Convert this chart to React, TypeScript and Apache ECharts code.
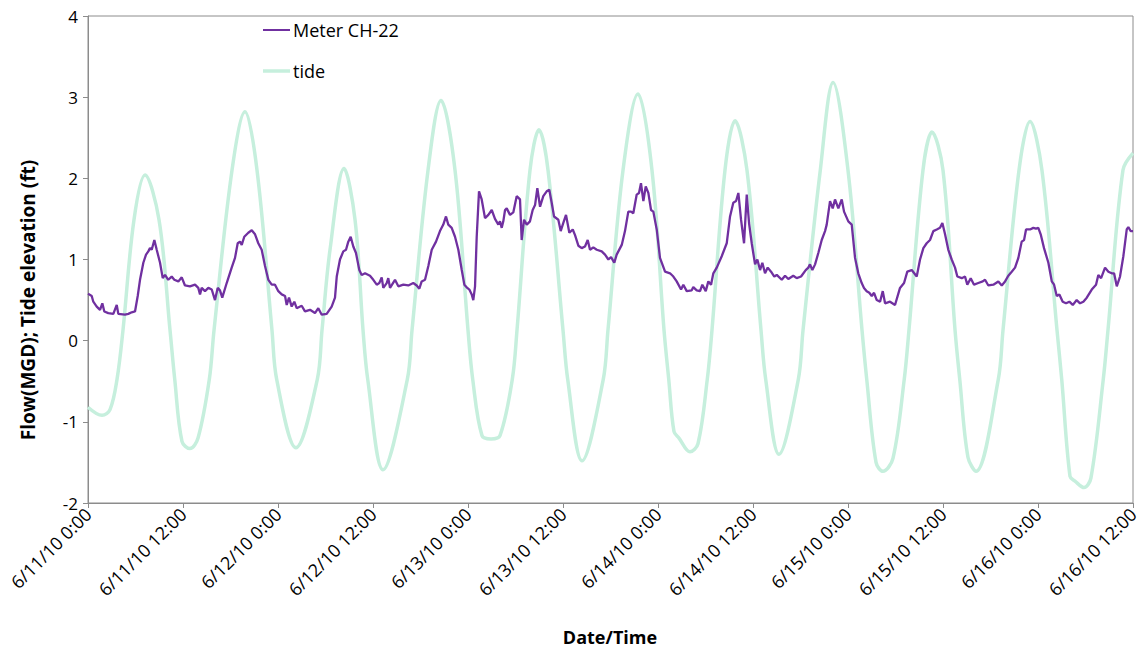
import React, { useEffect, useRef } from "react";
import * as echarts from "echarts";

// hours since 6/11/10 0:00
const tideHours = [0, 1.77, 2.78, 3.66, 4.42, 5.81, 7.2, 8.97, 10.36, 10.96, 11.87, 12.88, 13.9, 15.32, 15.92, 18.19, 19.83, 21.35, 23.24, 23.84, 26.27, 28.96, 29.56, 30.57, 32.34, 33.73, 34.74, 35.34, 37.26, 40.33, 40.93, 42.95, 44.59, 46.36, 48.0, 48.6, 49.77, 50.91, 52.04, 53.59, 54.19, 55.83, 56.97, 58.11, 60.0, 60.6, 62.4, 65.08, 65.68, 67.58, 69.47, 71.24, 72.76, 73.36, 74.02, 74.65, 76.04, 77.05, 78.22, 78.82, 80.46, 81.73, 83.24, 85.01, 85.61, 87.28, 89.72, 90.32, 92.5, 94.11, 96.0, 97.77, 98.37, 99.54, 100.42, 101.68, 103.1, 103.7, 105.47, 106.61, 108.0, 109.52, 110.12, 111.16, 112.17, 114.98, 115.58, 117.6, 118.99, 120.5, 122.4, 123.0, 124.04, 124.67, 125.81, 126.69, 128.24, 128.84, 130.73, 132];
const tideValues = [-0.82, -0.92, -0.85, -0.48, 0.13, 1.49, 2.04, 1.49, 0.13, -0.48, -1.24, -1.33, -1.2, -0.48, 0.13, 2.1, 2.82, 2.1, 0.13, -0.48, -1.32, -0.48, 0.13, 1.12, 2.12, 1.49, 0.13, -0.48, -1.59, -0.48, 0.13, 2.1, 2.96, 2.1, 0.13, -0.48, -1.17, -1.21, -1.17, -0.48, 0.13, 2.1, 2.6, 2.1, 0.13, -0.48, -1.48, -0.48, 0.13, 2.1, 3.04, 2.1, 0.13, -0.48, -1.12, -1.2, -1.37, -1.27, -0.48, 0.13, 2.1, 2.71, 2.1, 0.13, -0.48, -1.4, -0.48, 0.13, 2.1, 3.18, 2.1, 0.13, -0.48, -1.5, -1.61, -1.45, -0.48, 0.13, 2.1, 2.57, 2.1, 0.13, -0.48, -1.44, -1.61, -0.48, 0.13, 2.1, 2.7, 2.1, 0.13, -0.48, -1.67, -1.73, -1.81, -1.69, -0.48, 0.13, 2.1, 2.31];

const meterHours = [0, 0.47, 0.67, 1.1, 1.52, 1.81, 2.06, 2.56, 3.2, 3.63, 3.83, 4.67, 5.09, 5.52, 5.94, 6.28, 6.57, 6.99, 7.33, 7.62, 7.83, 8.05, 8.38, 8.68, 9.1, 9.44, 9.73, 10.14, 10.57, 10.9, 11.41, 11.84, 12.25, 12.88, 13.52, 13.93, 14.15, 14.36, 14.78, 15.2, 15.63, 16.04, 16.38, 16.67, 16.96, 17.52, 18.15, 18.57, 18.91, 19.2, 19.42, 19.74, 20.25, 20.68, 21.1, 21.51, 21.94, 22.36, 22.78, 23.21, 23.62, 24.04, 24.47, 24.89, 25.1, 25.39, 25.73, 26.06, 26.36, 26.99, 27.41, 28.04, 28.67, 29.09, 29.52, 30.15, 30.78, 31.2, 31.42, 31.83, 32.25, 32.59, 32.88, 33.18, 33.51, 33.85, 34.27, 34.57, 34.99, 35.62, 36.04, 36.47, 36.8, 37.1, 37.3, 37.73, 37.93, 38.15, 38.78, 39.2, 39.83, 40.46, 41.09, 41.52, 41.85, 42.15, 42.57, 42.99, 43.42, 43.96, 44.46, 44.88, 45.22, 45.51, 45.94, 46.36, 46.78, 47.21, 47.54, 47.91, 48.17, 48.47, 48.67, 48.89, 49.1, 49.39, 49.73, 50.15, 50.57, 51.0, 51.41, 51.83, 52.04, 52.26, 52.46, 52.68, 52.89, 53.31, 53.72, 54.15, 54.57, 54.78, 55.08, 55.42, 55.83, 56.17, 56.47, 56.76, 57.1, 57.51, 57.94, 58.27, 58.57, 58.87, 59.41, 59.71, 60.04, 60.38, 60.8, 61.23, 61.52, 61.94, 62.36, 62.78, 63.12, 63.41, 63.83, 64.26, 64.89, 65.31, 65.73, 66.07, 66.48, 66.78, 67.42, 67.83, 68.25, 68.59, 68.88, 69.31, 69.6, 69.85, 70.15, 70.45, 70.78, 71.12, 71.41, 71.84, 72.25, 72.89, 73.52, 73.94, 74.36, 74.91, 75.2, 75.63, 76.26, 76.46, 76.89, 77.31, 77.6, 78.03, 78.36, 78.7, 78.99, 79.42, 80.05, 80.68, 81.1, 81.51, 81.86, 82.15, 82.49, 82.87, 83.21, 83.5, 83.84, 84.26, 84.55, 84.89, 85.18, 85.52, 85.86, 86.28, 86.69, 87.0, 87.63, 88.05, 88.46, 89.09, 89.52, 90.07, 90.66, 90.99, 91.2, 91.5, 91.84, 92.25, 92.68, 93.1, 93.31, 93.73, 94.07, 94.36, 94.78, 95.21, 95.5, 96.04, 96.47, 96.89, 97.3, 97.73, 98.02, 98.36, 98.69, 99.0, 99.29, 99.63, 100.05, 100.39, 100.68, 101.31, 101.94, 102.57, 103.08, 103.49, 104.05, 104.68, 105.1, 105.52, 105.94, 106.36, 106.78, 107.21, 107.62, 107.92, 108.26, 108.67, 109.1, 109.52, 109.81, 110.37, 110.78, 111.07, 111.5, 111.92, 112.46, 113.02, 113.31, 113.73, 114.36, 114.99, 115.42, 115.84, 116.25, 116.68, 117.1, 117.52, 117.94, 118.24, 118.49, 118.99, 119.41, 119.75, 120.04, 120.34, 120.76, 121.31, 121.74, 122.03, 122.37, 122.7, 123.12, 123.54, 123.96, 124.39, 124.89, 125.31, 125.73, 126.16, 126.79, 127.33, 127.62, 127.97, 128.47, 128.89, 129.31, 129.61, 129.95, 130.36, 130.78, 131.21, 131.41, 131.71, 132];
const meterValues = [0.58, 0.55, 0.48, 0.42, 0.38, 0.46, 0.36, 0.34, 0.33, 0.44, 0.33, 0.32, 0.33, 0.35, 0.36, 0.55, 0.75, 0.96, 1.06, 1.1, 1.14, 1.12, 1.24, 1.12, 0.96, 0.77, 0.81, 0.75, 0.79, 0.75, 0.73, 0.78, 0.68, 0.67, 0.69, 0.65, 0.57, 0.65, 0.61, 0.65, 0.63, 0.5, 0.65, 0.62, 0.53, 0.71, 0.9, 1.02, 1.2, 1.22, 1.18, 1.28, 1.33, 1.36, 1.31, 1.2, 1.12, 0.92, 0.75, 0.69, 0.69, 0.61, 0.57, 0.55, 0.44, 0.53, 0.42, 0.48, 0.4, 0.43, 0.36, 0.38, 0.34, 0.4, 0.32, 0.33, 0.42, 0.53, 0.79, 1.0, 1.1, 1.12, 1.22, 1.28, 1.16, 1.08, 0.87, 0.81, 0.83, 0.8, 0.75, 0.69, 0.71, 0.78, 0.65, 0.71, 0.77, 0.65, 0.75, 0.67, 0.69, 0.68, 0.71, 0.68, 0.64, 0.73, 0.75, 0.92, 1.12, 1.22, 1.35, 1.43, 1.53, 1.43, 1.39, 1.28, 1.12, 0.87, 0.69, 0.65, 0.63, 0.57, 0.5, 0.67, 1.28, 1.84, 1.74, 1.51, 1.55, 1.61, 1.5, 1.43, 1.47, 1.39, 1.47, 1.61, 1.63, 1.55, 1.58, 1.78, 1.74, 1.24, 1.49, 1.43, 1.47, 1.61, 1.67, 1.88, 1.65, 1.78, 1.84, 1.86, 1.7, 1.53, 1.49, 1.35, 1.45, 1.55, 1.33, 1.37, 1.3, 1.17, 1.14, 1.16, 1.24, 1.12, 1.15, 1.12, 1.1, 1.06, 1.0, 1.03, 0.96, 1.06, 1.18, 1.35, 1.59, 1.59, 1.57, 1.8, 1.82, 1.94, 1.72, 1.9, 1.82, 1.61, 1.59, 1.37, 1.02, 0.85, 0.83, 0.79, 0.73, 0.63, 0.69, 0.61, 0.62, 0.66, 0.62, 0.61, 0.69, 0.61, 0.73, 0.69, 0.83, 0.9, 1.04, 1.2, 1.53, 1.7, 1.72, 1.82, 1.49, 1.2, 1.8, 1.45, 1.2, 0.94, 1.0, 0.87, 0.96, 0.83, 0.9, 0.85, 0.79, 0.81, 0.75, 0.8, 0.76, 0.8, 0.77, 0.79, 0.87, 0.9, 0.94, 0.87, 0.94, 1.08, 1.24, 1.35, 1.43, 1.72, 1.63, 1.74, 1.63, 1.74, 1.59, 1.47, 1.43, 1.02, 0.83, 0.71, 0.65, 0.61, 0.59, 0.55, 0.59, 0.5, 0.48, 0.61, 0.46, 0.48, 0.44, 0.65, 0.71, 0.85, 0.87, 0.79, 1.0, 1.14, 1.2, 1.24, 1.35, 1.37, 1.39, 1.45, 1.31, 1.12, 1.0, 0.9, 0.79, 0.77, 0.79, 0.69, 0.77, 0.69, 0.71, 0.73, 0.75, 0.68, 0.69, 0.73, 0.68, 0.73, 0.8, 0.85, 0.9, 1.02, 1.22, 1.24, 1.37, 1.37, 1.39, 1.38, 1.39, 1.31, 1.14, 0.96, 0.73, 0.69, 0.55, 0.57, 0.48, 0.46, 0.48, 0.44, 0.5, 0.46, 0.48, 0.53, 0.63, 0.69, 0.81, 0.77, 0.9, 0.85, 0.83, 0.83, 0.67, 0.79, 1.04, 1.37, 1.4, 1.35, 1.35];

const xTickHours = [0, 12, 24, 36, 48, 60, 72, 84, 96, 108, 120, 132];
const FONT = '"Open Sans", "Liberation Sans", sans-serif';

function hourLabel(h: number): string {
  const day = 11 + Math.floor(h / 24);
  const hr = Math.round(h % 24);
  return `6/${day}/10 ${hr}:00`;
}

export default function App() {
  const ref = useRef<HTMLDivElement>(null);
  useEffect(() => {
    if (!ref.current) return;
    const chart = echarts.init(ref.current, null, { renderer: "svg" });
    const tideData = tideHours.map((h, i) => [h, tideValues[i]]);
    const meterData = meterHours.map((h, i) => [h, meterValues[i]]);
    chart.setOption({
      animation: false,
      backgroundColor: "#ffffff",
      grid: { left: 88, right: 10, top: 16, bottom: 151, show: true, borderColor: "#8c8c8c", borderWidth: 1, backgroundColor: "transparent" },
      xAxis: {
        type: "value",
        min: xTickHours[0],
        max: xTickHours[xTickHours.length - 1],
        interval: 12,
        axisLine: { show: true, onZero: false, lineStyle: { color: "#8c8c8c", width: 1 } },
        axisTick: { show: true, length: 5, lineStyle: { color: "#8c8c8c" } },
        splitLine: { show: false },
        axisLabel: { rotate: 45, margin: 8, fontSize: 18, color: "#000", fontFamily: FONT, formatter: (v: number) => hourLabel(v) },
      },
      yAxis: {
        type: "value",
        min: -2,
        max: 4,
        interval: 1,
        axisLine: { show: true, lineStyle: { color: "#8c8c8c", width: 1 } },
        axisTick: { show: true, length: 5, lineStyle: { color: "#8c8c8c" } },
        splitLine: { show: false },
        axisLabel: { margin: 10, fontSize: 17, color: "#000", fontFamily: FONT },
      },
      legend: [
        {
          data: ["Meter CH-22"], left: 263, top: 19, padding: 0, itemWidth: 27, itemHeight: 2, icon: "rect", itemGap: 0,
          textStyle: { fontSize: 18, color: "#000", fontFamily: FONT, lineHeight: 22, padding: [0, 0, 0, -2] },
        },
        {
          data: ["tide"], left: 263, top: 60, padding: 0, itemWidth: 27, itemHeight: 3.5, icon: "rect", itemGap: 0,
          textStyle: { fontSize: 18, color: "#000", fontFamily: FONT, lineHeight: 22, padding: [0, 0, 0, -2] },
        },
      ],
      graphic: [
        {
          type: "text", x: 28, y: 300, rotation: Math.PI / 2,
          style: { text: "Flow(MGD); Tide elevation (ft)", font: `bold 19px ${FONT}`, fill: "#000", textAlign: "center", textVerticalAlign: "middle" },
        },
        {
          type: "text", x: 610, y: 637,
          style: { text: "Date/Time", font: `bold 18px ${FONT}`, fill: "#000", textAlign: "center", textVerticalAlign: "middle" },
        },
      ],
      series: [
        {
          name: "tide", type: "line", data: tideData, symbol: "none", smooth: 0.35,
          lineStyle: { color: "#c6efdd", width: 3.5 }, itemStyle: { color: "#c6efdd" }, z: 2,
        },
        {
          name: "Meter CH-22", type: "line", data: meterData, symbol: "none", smooth: false,
          lineStyle: { color: "#7030a0", width: 2.3 }, itemStyle: { color: "#7030a0" }, z: 3,
        },
      ],
    });
    return () => chart.dispose();
  }, []);
  return <div ref={ref} style={{ position: "fixed", left: 0, top: 0, width: 1143, height: 654 }} />;
}
